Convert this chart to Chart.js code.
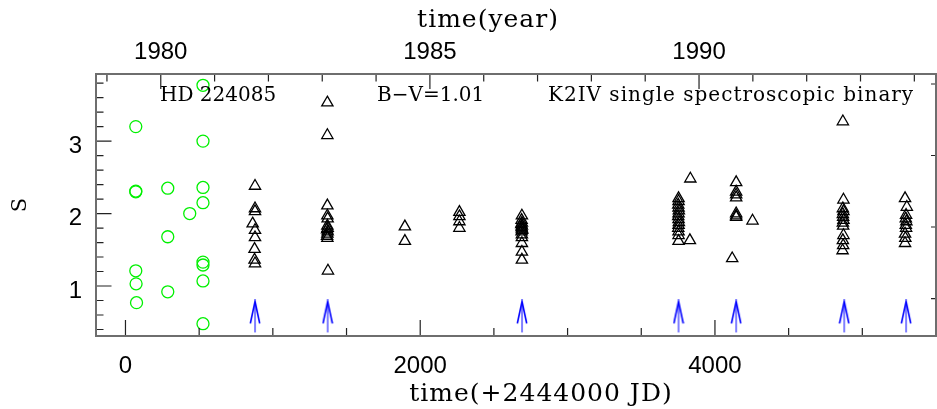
<!DOCTYPE html>
<html>
<head>
<meta charset="utf-8">
<title>HD 224085 S-index</title>
<script src="https://cdn.jsdelivr.net/npm/chart.js@4.4.0/dist/chart.umd.min.js"></script>
<style>
    html, body { margin: 0; padding: 0; background: #fff; }
    #wrap { width: 937px; height: 409px; }
</style>
</head>
<body>
<div id="wrap"><canvas id="sindex" width="937" height="409"></canvas></div>
<script>
// times are JD - 2444000
// early photometer-era points (circles)
const circleJD = [70, 70, 70, 70, 72, 75,
                  287, 287, 287,
                  436,
                  526, 526, 526, 526, 526, 526, 526, 526];
const circleS  = [3.20, 2.31, 2.30, 1.21, 1.03, 0.77,
                  2.35, 1.68, 0.92,
                  2.00,
                  3.77, 3.00, 2.36, 2.15, 1.33, 1.29, 1.07, 0.48];

// seasonal observations (triangles)
const triJD = [879, 879, 879, 863, 879, 879, 876, 876, 879,
               1370, 1370, 1370, 1370, 1372, 1370, 1372, 1368, 1372, 1370, 1368, 1370, 1374,
               1896, 1896,
               2266, 2266, 2266, 2266,
               2690, 2688, 2690, 2686, 2690, 2688, 2690, 2692, 2688, 2690, 2690, 2690, 2690, 2690,
               3753, 3753, 3751, 3753, 3755, 3753, 3751, 3753, 3755, 3753, 3751, 3753, 3753, 3753, 3830, 3833,
               4144, 4144, 4144, 4144, 4144, 4144, 4144, 4255, 4117,
               4868, 4872, 4868, 4872, 4868, 4870, 4872, 4868, 4870, 4872, 4868, 4870, 4866,
               5290, 5302, 5297, 5295, 5299, 5295, 5297, 5290, 5292, 5290];
const triS  = [2.38, 2.07, 2.03, 1.86, 1.77, 1.67, 1.51, 1.36, 1.31,
               3.53, 3.08, 2.11, 1.97, 1.93, 1.83, 1.80, 1.78, 1.75, 1.72, 1.69, 1.66, 1.21,
               1.82, 1.62,
               2.02, 1.96, 1.89, 1.80,
               1.97, 1.91, 1.87, 1.85, 1.83, 1.81, 1.79, 1.77, 1.75, 1.71, 1.67, 1.59, 1.47, 1.36,
               2.21, 2.17, 2.12, 2.08, 2.04, 2.00, 1.96, 1.92, 1.88, 1.84, 1.80, 1.75, 1.70, 1.62, 1.63, 2.48,
               2.43, 2.30, 2.26, 2.22, 2.00, 1.97, 1.95, 1.90, 1.38,
               3.27, 2.19, 2.07, 2.03, 1.99, 1.95, 1.91, 1.87, 1.83, 1.70, 1.63, 1.56, 1.49,
               2.21, 2.09, 1.98, 1.93, 1.89, 1.84, 1.80, 1.72, 1.66, 1.59];

// season markers
const arrowJD = [879, 1372, 2691, 3753, 4144, 4877, 5297];
const arrowS  = [0.58, 0.58, 0.58, 0.58, 0.58, 0.58, 0.58];

const jdLabels = [0, 2000, 4000];
const yearLabels = [1980, 1985, 1990];
const sLabels = [1, 2, 3];

const JD_MIN = -200, JD_MAX = 5500;
const yearOf = jd => 1980 + (jd - 239.5) / 365.25;

const pts = (xs, ys) => xs.map((x, i) => ({x: x, y: ys[i]}));
const near = (v, list) => list.some(t => Math.abs(v - t) < 1e-6);

// evenly spaced tick values inside [lo, hi]
function tickRange(lo, hi, step) {
    const out = [];
    for (let k = Math.ceil(lo / step - 1e-9); k * step <= hi + 1e-9; k++) {
        out.push({value: Math.round(k * step * 1e6) / 1e6});
    }
    return out;
}

// open blue arrow used as a point symbol
const arrowImg = document.createElement('canvas');
arrowImg.width = 12;
arrowImg.height = 34;
(function () {
    const g = arrowImg.getContext('2d');
    g.strokeStyle = '#0000ff';
    g.lineWidth = 1;
    g.beginPath();
    g.moveTo(6, 4);
    g.lineTo(6, 33);
    g.stroke();
    g.lineWidth = 1.6;
    g.beginPath();
    g.moveTo(1.3, 24);
    g.lineTo(6, 2);
    g.lineTo(10.7, 24);
    g.stroke();
})();

// frame, inward tick marks and the free text
const frameAndText = {
    id: 'frameAndText',
    afterDraw(chart) {
        const {ctx, chartArea: a, scales} = chart;
        ctx.save();

        ctx.strokeStyle = '#222';
        ctx.lineWidth = 1.2;
        ctx.beginPath();
        scales.y.ticks.forEach(t => {
            const p = scales.y.getPixelForValue(t.value);
            const len = near(t.value, [Math.round(t.value)]) ? 15.5 : 7.5;
            ctx.moveTo(a.left, p); ctx.lineTo(a.left + len, p);
        });
        scales.y2.ticks.forEach(t => {
            const p = scales.y2.getPixelForValue(t.value);
            ctx.moveTo(a.right - 5, p); ctx.lineTo(a.right, p);
        });
        scales.x.ticks.forEach(t => {
            const p = scales.x.getPixelForValue(t.value);
            const len = t.value % 2000 === 0 ? 16 : 8;
            ctx.moveTo(p, a.bottom); ctx.lineTo(p, a.bottom - len);
        });
        scales.x2.ticks.forEach(t => {
            const p = scales.x2.getPixelForValue(t.value);
            const len = t.value % 5 === 0 ? 15 : 7.5;
            ctx.moveTo(p, a.top); ctx.lineTo(p, a.top + len);
        });
        ctx.stroke();

        ctx.strokeStyle = '#6e6e6e';
        ctx.lineWidth = 2;
        ctx.strokeRect(a.left, a.top, a.right - a.left, a.bottom - a.top);

        ctx.fillStyle = '#000';
        ctx.textBaseline = 'alphabetic';
        ctx.font = '20px "DejaVu Serif"';
        ctx.textAlign = 'left';
        ctx.fillText('HD 224085', a.left + 64, a.top + 27);
        ctx.fillText('B\u2212V=1.01', a.left + 281, a.top + 27);
        ctx.letterSpacing = '1px';
        ctx.fillText('K2IV single spectroscopic binary', a.left + 452, a.top + 27);

        ctx.font = '25px "DejaVu Serif"';
        ctx.textAlign = 'center';
        ctx.fillText('time(year)', 488, 27);
        ctx.fillText('time(+2444000 JD)', 541, 401);
        ctx.letterSpacing = '0px';

        ctx.font = '21px "DejaVu Serif"';
        ctx.translate(26, 205);
        ctx.rotate(-Math.PI / 2);
        ctx.fillText('S', 0, 0);
        ctx.restore();
    }
};

const tickFont = {family: 'Liberation Sans', size: 24};
const noGrid = {display: false, drawTicks: false};
// keep label padding from eating into the plot width
const noPad = s => { s.paddingLeft = 0; s.paddingRight = 0; s.paddingTop = 0; s.paddingBottom = 0; };

new Chart(document.getElementById('sindex'), {
    type: 'scatter',
    data: {
        datasets: [
            {
                data: pts(circleJD, circleS),
                pointStyle: 'circle',
                pointRadius: 6,
                borderColor: '#00f000',
                backgroundColor: 'rgba(0,0,0,0)',
                borderWidth: 1.3
            },
            {
                data: pts(triJD, triS),
                pointStyle: 'triangle',
                pointRadius: 6.5,
                borderColor: '#000',
                backgroundColor: 'rgba(0,0,0,0)',
                borderWidth: 1.3
            },
            {
                data: pts(arrowJD, arrowS),
                pointStyle: arrowImg,
                pointRadius: 6
            }
        ]
    },
    options: {
        responsive: false,
        animation: false,
        events: [],
        layout: {padding: 0, autoPadding: false},
        plugins: {legend: {display: false}, tooltip: {enabled: false}},
        scales: {
            x: {
                type: 'linear', position: 'bottom',
                min: JD_MIN, max: JD_MAX,
                grid: noGrid, border: {display: false},
                afterBuildTicks: s => { s.ticks = tickRange(JD_MIN, JD_MAX, 500); },
                ticks: {
                    autoSkip: false, maxRotation: 0,
                    padding: 16, color: '#000', font: tickFont,
                    callback: v => near(v, jdLabels) ? String(v) : ''
                },
                afterFit: s => { s.height = 73; noPad(s); }
            },
            x2: {
                type: 'linear', position: 'top',
                min: yearOf(JD_MIN), max: yearOf(JD_MAX),
                grid: noGrid, border: {display: false},
                afterBuildTicks: s => { s.ticks = tickRange(s.min, s.max, 1); },
                ticks: {
                    autoSkip: false, maxRotation: 0,
                    padding: 7, color: '#000', font: tickFont,
                    callback: v => near(v, yearLabels) ? String(v) : ''
                },
                afterFit: s => { s.height = 74; noPad(s); }
            },
            y: {
                type: 'linear', position: 'left',
                min: 0.31, max: 3.926,
                grid: noGrid, border: {display: false},
                afterBuildTicks: s => { s.ticks = tickRange(s.min, s.max, 0.2); },
                ticks: {
                    autoSkip: false,
                    padding: 14, labelOffset: 5, color: '#000', font: tickFont,
                    callback: v => near(v, sLabels) ? String(Math.round(v)) : ''
                },
                afterFit: s => { s.width = 96; noPad(s); }
            },
            y2: {
                type: 'linear', position: 'right',
                min: -0.524, max: 3.14,
                grid: noGrid, border: {display: false},
                afterBuildTicks: s => { s.ticks = tickRange(s.min, s.max, 1); },
                ticks: {display: false},
                afterFit: s => { s.width = 1; noPad(s); }
            }
        }
    },
    plugins: [frameAndText]
});
</script>
</body>
</html>
